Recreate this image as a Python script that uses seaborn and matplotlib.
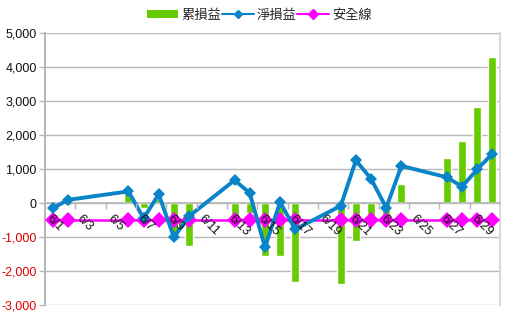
import numpy as np
import pandas as pd
import matplotlib
matplotlib.use("Agg")
import matplotlib.pyplot as plt
import seaborn as sns
from matplotlib.lines import Line2D
from matplotlib.patches import Patch

# ---- data ----
dates = [f"6/{d}" for d in range(1, 31)]
trade_days = ["6/1", "6/2", "6/6", "6/7", "6/8", "6/9", "6/10", "6/13", "6/14",
              "6/15", "6/16", "6/17", "6/20", "6/21", "6/22", "6/23", "6/24",
              "6/27", "6/28", "6/29", "6/30"]
cum_pnl = [-150, -50, 300, -140, 125, -875, -1260, -600, -290, -1560, -1540,
           -2310, -2385, -1120, -400, -530, 570, 1340, 1830, 2830, 4300]
net_pnl = [-150, 100, 350, -440, 265, -1000, -380, 680, 300, -1290, 30, -765,
           -75, 1260, 720, -130, 1100, 765, 490, 1000, 1460]
safety = [-500] * len(trade_days)
y_ticks = [-3000, -2000, -1000, 0, 1000, 2000, 3000, 4000, 5000]
labels = ["累損益", "淨損益", "安全線"]

sns.set_theme(style="white")
plt.rcParams["font.family"] = ["Liberation Sans", "Noto Sans CJK TC", "DejaVu Sans"]

df_bar = pd.DataFrame({"date": dates})
df_bar = df_bar.merge(pd.DataFrame({"date": trade_days, "cum": cum_pnl}), on="date", how="left")
df_line = pd.DataFrame({"date": trade_days, "net": net_pnl, "safe": safety})
df_line["pos"] = [dates.index(d) for d in trade_days]

fig = plt.figure(figsize=(5.18, 3.23), dpi=100)
ax = fig.add_axes([45 / 518, 1 - 305.3 / 323, 455 / 518, (305.3 - 33.3) / 323])

green = "#66cc00"
blue = "#0a84c8"
magenta = "#ff00ff"

sns.barplot(data=df_bar, x="date", y="cum", order=dates, color=green,
            width=0.52, errorbar=None, ax=ax, saturation=1, zorder=2)
sns.lineplot(data=df_line, x="pos", y="net", color=blue, lw=2.8, marker="D",
             markersize=6, markeredgewidth=0, ax=ax, zorder=4)
sns.lineplot(data=df_line, x="pos", y="safe", color=magenta, lw=1.8, marker="D",
             markersize=8, markeredgewidth=0, ax=ax, zorder=3)

ax.set_xlim(-0.5, 29.5)
ax.set_ylim(-3000, 5000)
ax.set_yticks(y_ticks)
ax.set_yticklabels([f"{v:,}" for v in y_ticks])
for t, v in zip(ax.get_yticklabels(), y_ticks):
    t.set_color("#e00000" if v < 0 else "#111111")
    t.set_fontsize(9)
ax.yaxis.grid(True, color="#b8b8b8", lw=1)
ax.set_axisbelow(True)
ax.set_xlabel("")
ax.set_ylabel("")

# x axis at zero
ax.spines["bottom"].set_position(("data", 0))
ax.spines["bottom"].set_color("#b8b8b8")
ax.spines["top"].set_visible(False)
ax.spines["left"].set_color("#b8b8b8")
ax.spines["left"].set_linewidth(1.5)
ax.spines["right"].set_color("#d8d8d8")
ax.spines["right"].set_linewidth(1.5)

ax.set_xticks(list(range(0, 30, 2)))
ax.set_xticklabels(dates[::2], rotation=-45, ha="left", va="top",
                   rotation_mode="anchor", fontsize=9, color="#111111")
ax.set_xticks(np.arange(1.5, 29, 2), minor=True)
ax.tick_params(axis="x", which="major", length=0, pad=7)
ax.tick_params(axis="x", which="minor", length=4, color="#b8b8b8", width=1, direction="out", bottom=True)
ax.tick_params(axis="y", length=4, color="#b8b8b8", width=1, left=True, pad=2)
ax.xaxis.set_zorder(6)

handles = [Patch(facecolor=green, edgecolor="none"),
           Line2D([], [], color=blue, lw=1.5, marker="D", markersize=4),
           Line2D([], [], color=magenta, lw=1.5, marker="D", markersize=5)]
fig.legend(handles, labels, loc="center", bbox_to_anchor=(0.5, 0.952), ncol=3,
           frameon=False, fontsize=9.5, handlelength=2.4, handleheight=0.55,
           handletextpad=0.2, columnspacing=0.1, borderpad=0)

fig.savefig("out.png", dpi=100)
